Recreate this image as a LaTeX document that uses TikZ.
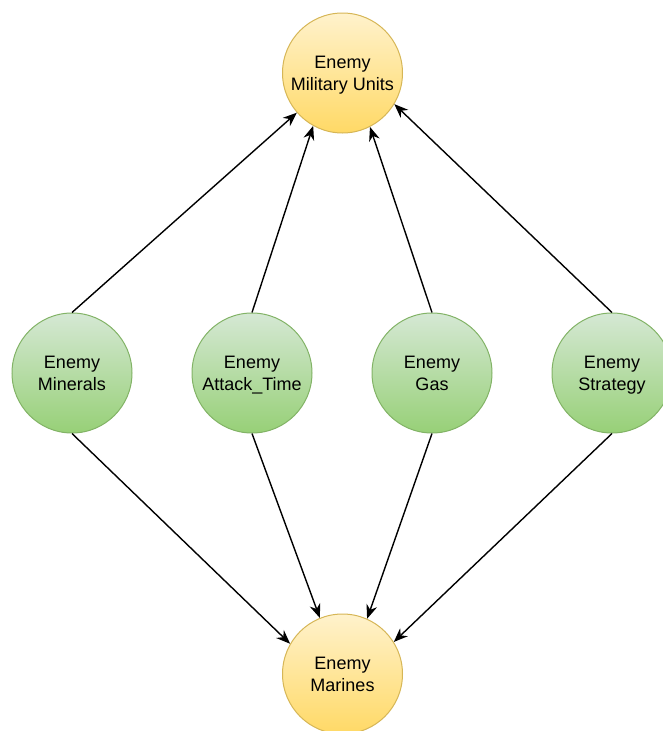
\documentclass[tikz,border=0pt]{standalone}
\usepackage{fontspec}
\setmainfont{Liberation Sans}
\usetikzlibrary{arrows.meta}
\tikzset{node distance=180pt, x=1pt, y=-1pt,
  unit/.style={circle, draw=yellowline, line width=1pt, top color=yellowtop, bottom color=yellowbot,
    minimum size=120pt, inner sep=0pt, align=center, font=\fontsize{18}{22}\selectfont,
    text depth=-2pt},
  res/.style={unit, draw=greenline, top color=greentop, bottom color=greenbot},
  dep/.style={-{Stealth[length=14pt, width=11pt, inset=4.5pt]}, line width=1.4pt}}
\definecolor{yellowtop}{HTML}{FFF2CC}
\definecolor{yellowbot}{HTML}{FFD966}
\definecolor{yellowline}{HTML}{D6B656}
\definecolor{greentop}{HTML}{D5E8D4}
\definecolor{greenbot}{HTML}{97D077}
\definecolor{greenline}{HTML}{82B366}

\begin{document}
\begin{tikzpicture}
        \useasboundingbox (0,0) rectangle (663,731);

        \node[res] (min) at (72,373) {Enemy\\Minerals};
        \node[res] (att) [right of=min] {Enemy\\Attack\_Time};
        \node[res] (gas) [right of=att] {Enemy\\Gas};
        \node[res] (str) [right of=gas] {Enemy\\Strategy};

        \node[unit] (mil) at (342.5,73) {Enemy\\Military Units};
        \node[unit] (mar) at (342.5,674) {Enemy\\Marines};

        % arrows end where the reference has them on the rim
        \draw[dep] (min.north) -- (mil.221);
        \draw[dep] (att.north) -- (mil.241);
        \draw[dep] (gas.north) -- (mil.297);
        \draw[dep] (str.north) -- (mil.329);

        \draw[dep] (min.south) -- (mar.150);
        \draw[dep] (att.south) -- (mar.112);
        \draw[dep] (gas.south) -- (mar.66);
        \draw[dep] (str.south) -- (mar.32);
      \end{tikzpicture}
\end{document}
